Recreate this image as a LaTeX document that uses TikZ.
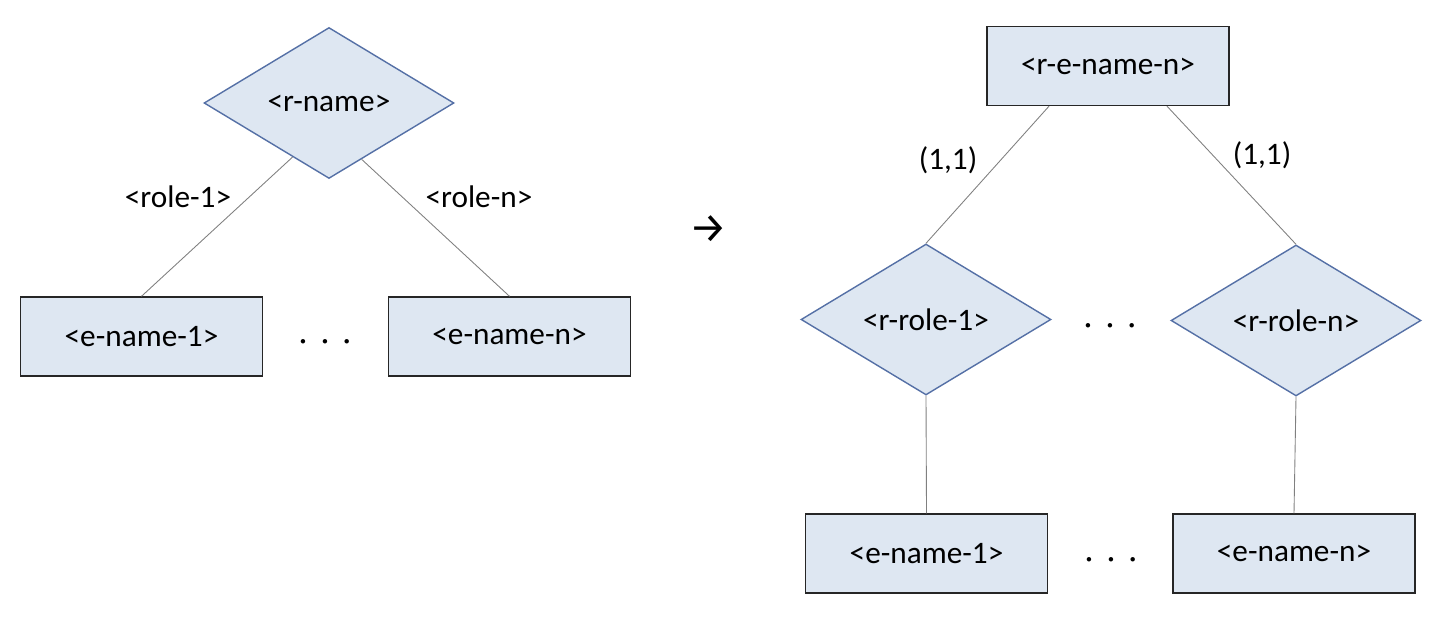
\documentclass[tikz,border=0pt]{standalone}
\usepackage{fontspec}
\setmainfont{Carlito}
\newfontfamily\arrowfont{Fira Sans}
\usetikzlibrary{shapes.geometric,calc}
\definecolor{boxfill}{HTML}{DEE7F2}
\definecolor{diaedge}{HTML}{5570A6}
\definecolor{linkgray}{HTML}{808080}
\begin{document}
\begin{tikzpicture}[x=0.02cm,y=-0.02cm,font=\fontsize{17.8}{21}\selectfont,
  entity/.style={draw=black!85,line width=0.8pt,fill=boxfill,minimum width=4.84cm,minimum height=1.58cm,inner sep=0pt},
  relship/.style={diamond,draw=diaedge,line width=0.8pt,fill=boxfill,minimum width=5cm,minimum height=3.02cm,inner sep=0pt},
  link/.style={draw=linkgray,line width=0.5pt}]
\useasboundingbox (0,0) rectangle (1440,617);
% left: relationship with roles
\node[relship] (rn) at (329,103) {<r-name>};
\node[entity] (le1) at (141.5,336.5) {<e-name-1>};
\node[entity] (len) at (509.5,336.5) {<e-name-n>};
\node (ldots) at (325,345) {·\hspace{0.45em}·\hspace{0.45em}·};
\draw[link] ($(rn.west)!0.71!(rn.south)$) -- (le1.north);
\draw[link] ($(rn.south)!0.26!(rn.east)$) -- (len.north);
\node (role1) at (178,197) {<role-1>};
\node (rolen) at (479,197) {<role-n>};
% transformation arrow
\node[font=\arrowfont\fontsize{24}{28}\selectfont] (arr) at (708,229) {→};
% right: reified relationship
\node[entity] (ren) at (1108,66) {<r-e-name-n>};
\node[relship] (rr1) at (926,319.5) {<r-role-1>};
\node[relship] (rrn) at (1296,320.5) {<r-role-n>};
\node (rdots) at (1110,329) {·\hspace{0.45em}·\hspace{0.45em}·};
\node[entity] (re1) at (926.5,553.5) {<e-name-1>};
\node[entity] (ren2) at (1294,553.5) {<e-name-n>};
\node (bdots) at (1111,563) {·\hspace{0.45em}·\hspace{0.45em}·};
\draw[link] ($(ren.south)+(-59,0)$) -- (rr1.north);
\draw[link] ($(ren.south)+(59,0)$) -- (rrn.north);
\draw[link] (rr1.south) -- (re1.north);
\draw[link] (rrn.south) -- (ren2.north);
\node (card1) at (948,160) {(1,1)};
\node (cardn) at (1262,155) {(1,1)};
\end{tikzpicture}
\end{document}
